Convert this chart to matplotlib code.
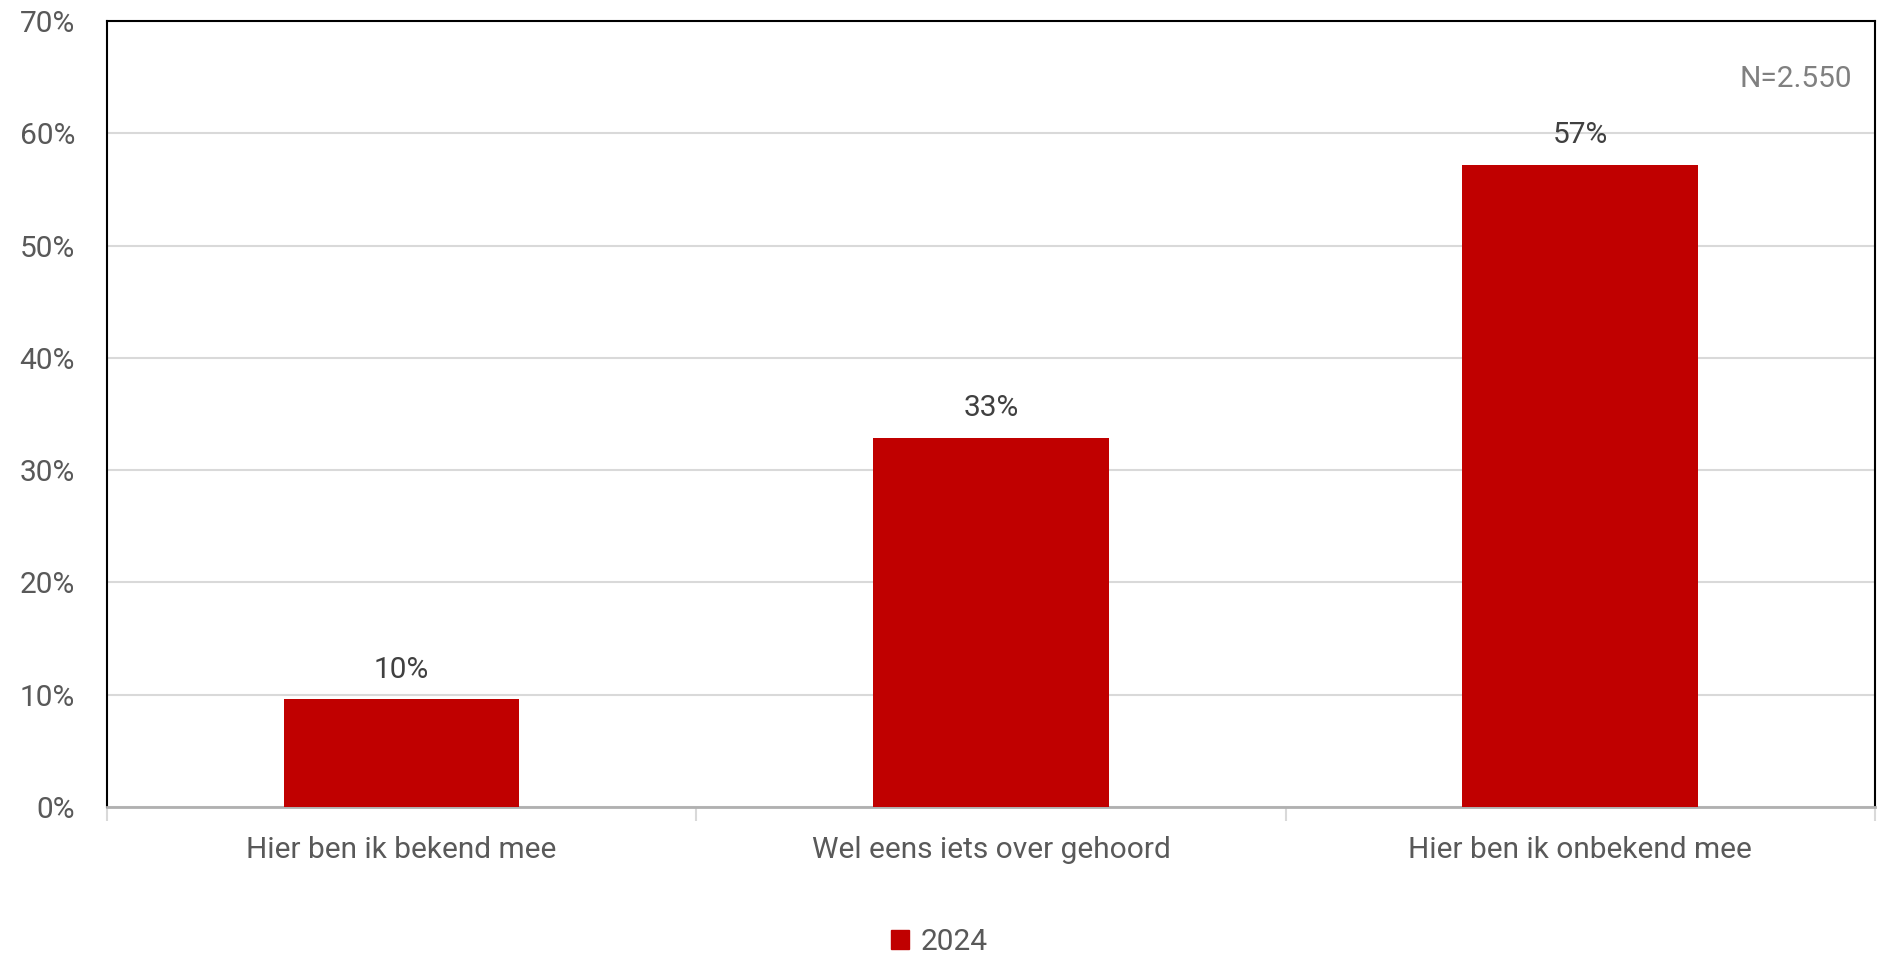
import matplotlib
matplotlib.use("Agg")
import matplotlib.pyplot as plt
from matplotlib.patches import Patch

plt.rcParams['font.family'] = ['Roboto', 'DejaVu Sans']

categories = ["Hier ben ik bekend mee", "Wel eens iets over gehoord", "Hier ben ik onbekend mee"]
values = [9.6, 32.9, 57.2]
labels = ["10%", "33%", "57%"]
series_name = "2024"
yticks = [0, 10, 20, 30, 40, 50, 60, 70]
note = "N=2.550"

bar_color = "#C00000"
text_color = "#595959"
fs = 21.5

fig = plt.figure(figsize=(18.79, 9.69), dpi=100)
ax = fig.add_axes([0.0569, 0.1672, 0.9410, 0.8111])

x = list(range(len(categories)))
ax.bar(x, values, width=0.4, color=bar_color, zorder=3)
ax.set_xlim(-0.5, len(categories) - 0.5)
ax.set_ylim(0, 70)
ax.set_yticks(yticks)
ax.set_yticklabels([f"{t}%" for t in yticks], fontsize=fs, color=text_color)
ax.yaxis.grid(True, color="#d9d9d9", linewidth=1.5, zorder=0)
ax.tick_params(axis='y', length=0, pad=23)

ax.set_xticks(x)
ax.set_xticklabels(categories, fontsize=fs, color=text_color)
ax.tick_params(axis='x', length=0, pad=21)
# category boundary ticks
ax.set_xticks([i - 0.5 for i in range(len(categories) + 1)], minor=True)
ax.tick_params(axis='x', which='minor', length=10, color="#d9d9d9", width=1.5)

for side in ['top', 'left', 'right']:
    ax.spines[side].set_color('black')
    ax.spines[side].set_linewidth(1.5)
ax.spines['bottom'].set_color('#b0b0b0')
ax.spines['bottom'].set_linewidth(2)

for xi, v, lab in zip(x, values, labels):
    ax.annotate(lab, (xi, v), xytext=(0, 11), textcoords='offset points',
                ha='center', va='bottom', fontsize=fs, color="#404040")

ax.text(0.987, 0.926, note, transform=ax.transAxes, ha='right', va='center',
        fontsize=fs, color="#808080")

fig.legend(handles=[Patch(color=bar_color, label=series_name)], loc='center',
           bbox_to_anchor=(0.5, 0.028), frameon=False, fontsize=fs,
           handlelength=0.6, handleheight=0.6, handletextpad=0.4,
           labelcolor=text_color)

fig.savefig("out.png", dpi=100)
